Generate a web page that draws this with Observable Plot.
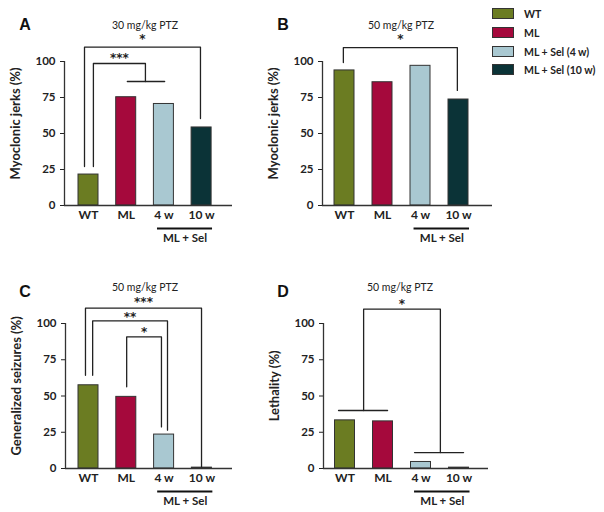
<!DOCTYPE html>
<html><head><meta charset="utf-8">
<script src="https://cdn.jsdelivr.net/npm/d3@7"></script>
<script src="https://cdn.jsdelivr.net/npm/@observablehq/plot@0.6"></script>
<style>
body{margin:0;background:#fff;}
#fig{position:relative;width:604px;height:512px;overflow:hidden;font-family:Lato,"Open Sans",sans-serif;color:#222;background:#fff;}
.panel{position:absolute;}
.panel text{font-weight:bold;}
.letter{position:absolute;font:bold 16px "Liberation Sans",Arial,sans-serif;transform:translate(-50%,-50%);color:#111;}
.title{position:absolute;font:10.5px Lato,sans-serif;transform:translate(-50%,-50%);white-space:nowrap;color:#222;}
.sw{position:absolute;width:22px;height:11px;border:1px solid #333;box-sizing:border-box;}
.lt{position:absolute;font:bold 10.5px Lato,sans-serif;transform:translateY(-50%);white-space:nowrap;color:#222;}
</style></head>
<body><div id="fig"></div>
<script>
// ---- data ----
const groups = ["WT", "ML", "ML + Sel (4 w)", "ML + Sel (10 w)"];
const tickLabels = ["WT", "ML", "4 w", "10 w"];
const colors = ["#6b7c22", "#a5093c", "#a9c8d1", "#0b3337"];
const jerks30 = [21.5, 75.2, 70.5, 54.2];
const jerks50 = [93.8, 85.6, 97.0, 73.6];
const seizures50 = [57.4, 49.4, 23.4, 0.6];
const lethality50 = [33.2, 32.5, 4.5, 0.6];
const yTicks = [0, 25, 50, 75, 100];
const groupLabel = "ML + Sel";
// significance brackets (x in category units 1..4, y in %)
const bracketsA = [
  {path: [[0.894, 27], [0.894, 110], [3.97, 110], [3.97, 60.4]], caps: [], label: "*", off: 8},
  {path: [[1.13, 27], [1.13, 98.6], [2.51, 98.6], [2.51, 86.1]], caps: [[2.03, 3.02, 86.1]], label: "***", off: 5}
];
const bracketsB = [
  {path: [[0.97, 99.3], [0.97, 109.7], [3.97, 109.7], [3.97, 79.9]], caps: [], label: "*", off: 8}
];
const bracketsC = [
  {path: [[0.92, 64.3], [0.92, 110.6], [3.99, 110.6], [3.99, 1.1]], caps: [], label: "***", off: 6},
  {path: [[1.11, 64.3], [1.11, 101.8], [3.09, 101.8], [3.09, 26.4]], caps: [], label: "**", off: 4},
  {path: [[2.01, 56.3], [2.01, 90.8], [2.93, 90.8], [2.93, 28.7]], caps: [], label: "*", off: 5}
];
const bracketsD = [
  {path: [[1.49, 40], [1.49, 109.9], [3.51, 109.9], [3.51, 11]], caps: [[0.83, 2.12, 40], [2.83, 4.12, 11]], label: "*", off: 5}
];

const panels = [
  {letter: "A", title: "30 mg/kg PTZ", ylabel: "Myoclonic jerks (%)", values: jerks30, brackets: bracketsA,
   x0: 64, x1: 232, yt: 61, yb: 205, c1: 88, s: 37.7, lx: 25, ly: 25, tx: 145, ty: 25},
  {letter: "B", title: "50 mg/kg PTZ", ylabel: "Myoclonic jerks (%)", values: jerks50, brackets: bracketsB,
   x0: 322, x1: 492, yt: 61, yb: 205, c1: 344, s: 38, lx: 283, ly: 25, tx: 401, ty: 25},
  {letter: "C", title: "50 mg/kg PTZ", ylabel: "Generalized seizures (%)", values: seizures50, brackets: bracketsC,
   x0: 65, x1: 232, yt: 323, yb: 468, c1: 88, s: 37.8, lx: 25, ly: 292, tx: 145, ty: 287},
  {letter: "D", title: "50 mg/kg PTZ", ylabel: "Lethality (%)", values: lethality50, brackets: bracketsD,
   x0: 323, x1: 488, yt: 323, yb: 468, c1: 344.5, s: 38, lx: 283, ly: 292, tx: 400, ty: 287}
];

const fig = document.getElementById("fig");
const ML = 64, MT = 61, MR = 20, MB = 50;

panels.forEach(p => {
  const xmin = 1 - (p.c1 - p.x0) / p.s;
  const xmax = 4 + (p.x1 - (p.c1 + 3 * p.s)) / p.s;
  const hw = 10 / p.s;
  const idx = d3.range(4);
  const segs = [];
  p.brackets.forEach((b, k) => {
    b.path.forEach(([x, y]) => segs.push({k: "b" + k, x, y}));
    b.caps.forEach((c, j) => {
      segs.push({k: "c" + k + j, x: c[0], y: c[2]});
      segs.push({k: "c" + k + j, x: c[1], y: c[2]});
    });
  });
  const labels = p.brackets.map(b => ({label: b.label, x: (b.path[1][0] + b.path[2][0]) / 2, y: b.path[1][1], off: b.off}));
  const chart = Plot.plot({
    width: ML + (p.x1 - p.x0) + MR,
    height: MT + (p.yb - p.yt) + MB,
    marginLeft: ML, marginTop: MT, marginRight: MR, marginBottom: MB,
    style: {fontFamily: "Lato, sans-serif", fontSize: "11px", fontWeight: "bold", color: "#222", background: "transparent", overflow: "visible"},
    x: {domain: [xmin, xmax], axis: null},
    y: {domain: [0, 100], axis: null},
    color: {domain: groups, range: colors},
    marks: [
      Plot.rectY(idx, {x1: i => i + 1 - hw, x2: i => i + 1 + hw, y1: 0, y2: i => p.values[i], fill: i => groups[i], stroke: "#333", strokeWidth: 1}),
      Plot.axisY({ticks: yTicks, tickSize: 4, tickPadding: 5, label: null, fontSize: 11.5, fontWeight: "bold"}),
      Plot.axisX({ticks: [1, 2, 3, 4], tickSize: 0, tickPadding: 5, tickFormat: d => tickLabels[d - 1], label: null, fontSize: 12, fontWeight: "bold"}),
      Plot.ruleX([xmin], {y1: 0, y2: 100, stroke: "#333", strokeWidth: 1.3}),
      Plot.ruleY([0], {stroke: "#333", strokeWidth: 1.3}),
      Plot.line(segs, {x: "x", y: "y", z: "k", stroke: "#222", strokeWidth: 1.3}),
      ...labels.map(l => Plot.text([l], {x: "x", y: "y", text: "label", dy: -l.off, lineAnchor: "middle", fontSize: 12, fontWeight: "bold", fontFamily: "DejaVu Sans, sans-serif"})),
      Plot.ruleY([0], {x1: 2.83, x2: 4.29, dy: 23, stroke: "#111", strokeWidth: 1.8}),
      Plot.text([groupLabel], {x: 3.56, y: 0, dy: 33, text: d => d, fontSize: 11.5, fontWeight: "bold"}),
      Plot.text([p.ylabel], {x: xmin, y: 57, dx: -49, rotate: -90, text: d => d, fontSize: 13, fontWeight: "bold"})
    ]
  });
  chart.classList.add("panel");
  chart.style.left = (p.x0 - ML) + "px";
  chart.style.top = (p.yt - MT) + "px";
  fig.appendChild(chart);
  const L = document.createElement("div");
  L.className = "letter"; L.textContent = p.letter;
  L.style.left = p.lx + "px"; L.style.top = p.ly + "px";
  fig.appendChild(L);
  const T = document.createElement("div");
  T.className = "title"; T.textContent = p.title;
  T.style.left = p.tx + "px"; T.style.top = p.ty + "px";
  fig.appendChild(T);
});

// legend
const legTops = [8, 27, 46, 64];
groups.forEach((g, i) => {
  const s = document.createElement("div");
  s.className = "sw"; s.style.left = "492px"; s.style.top = legTops[i] + "px"; s.style.background = colors[i];
  fig.appendChild(s);
  const t = document.createElement("div");
  t.className = "lt"; t.textContent = g; t.style.left = "524px"; t.style.top = (legTops[i] + 6) + "px";
  fig.appendChild(t);
});
</script>
</body></html>
